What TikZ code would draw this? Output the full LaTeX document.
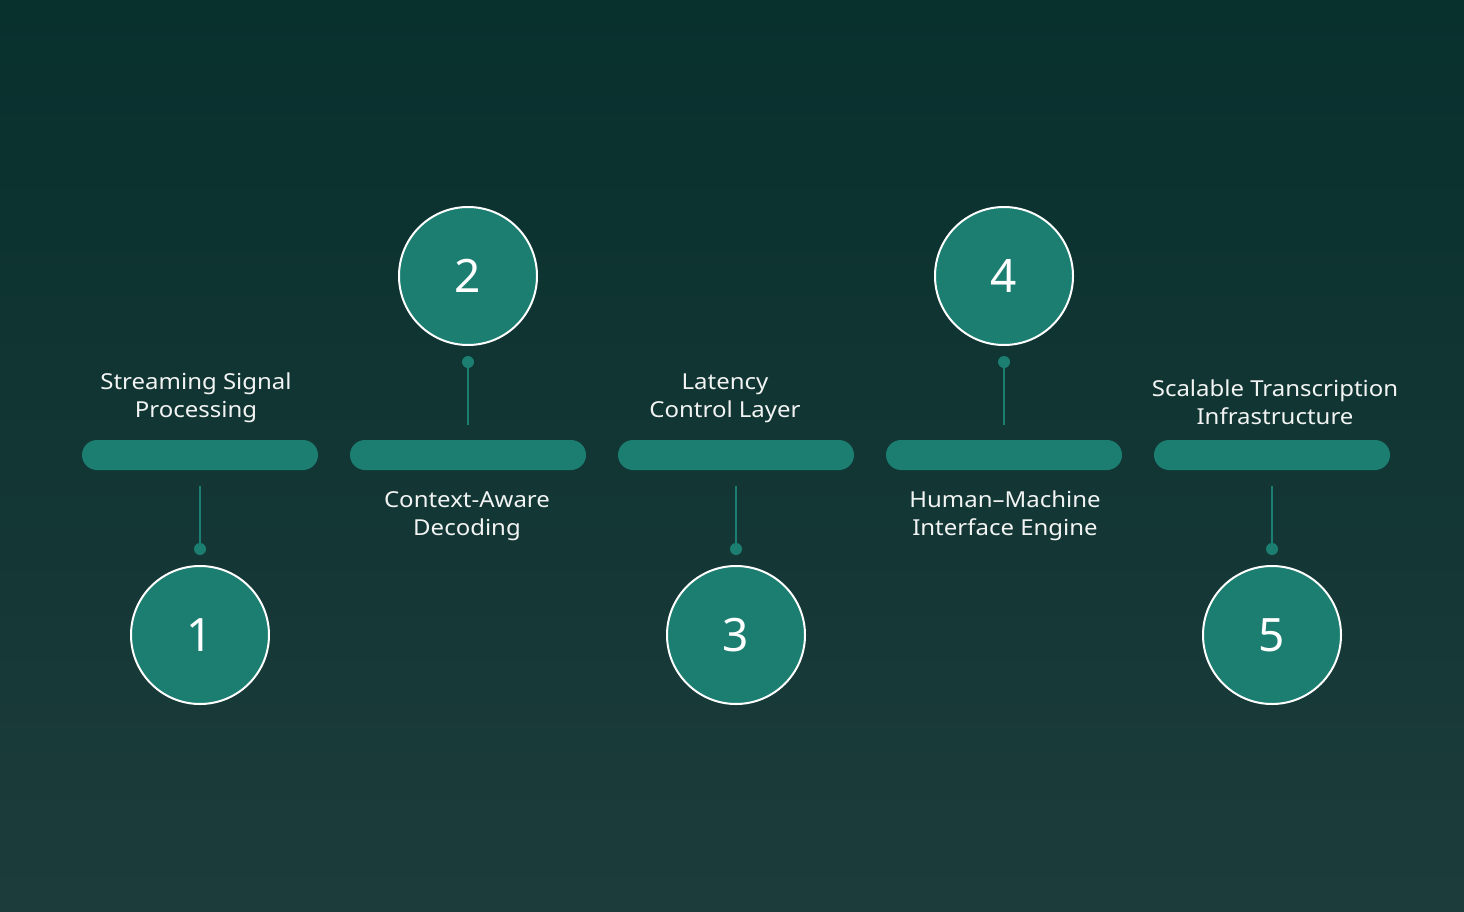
\documentclass[tikz,border=0pt]{standalone}
\usepackage{fontspec}
\setmainfont{Noto Sans}[FakeStretch=1.09]
\newfontfamily\numfont{Noto Sans}
\definecolor{bgtop}{HTML}{08302D}
\definecolor{bgbot}{HTML}{1C3C3B}
\definecolor{teal}{HTML}{1B7E71}
\definecolor{txt}{HTML}{F2F4F3}
\tikzset{
  bar/.style={fill=teal, rounded corners=15pt, draw=none},
  numcircle/.style={circle, fill=teal, draw=white, line width=2pt, minimum size=138pt, inner sep=0pt, text=white, font=\numfont\fontsize{46}{46}\selectfont},
  conn/.style={draw=teal, line width=2pt},
  dotc/.style={circle, fill=teal, minimum size=12pt, inner sep=0pt},
  lbl/.style={align=center, text=txt, font=\fontsize{22}{28}\selectfont, inner sep=0pt},
}
\begin{document}
\begin{tikzpicture}[x=1pt,y=-1pt]
\shade[top color=bgtop, bottom color=bgbot] (0,0) rectangle (1464,912);
\useasboundingbox (0,0) rectangle (1464,912);
% bars
\foreach \i/\cx in {1/200,2/468,3/736,4/1004,5/1272}{
  \path[bar] (\cx-118,440) rectangle (\cx+118,470);
  \coordinate (bt\i) at (\cx,425);
  \coordinate (bb\i) at (\cx,486);
}
% circles
\node[numcircle] (c1) at (200,635) {1};
\node[numcircle] (c3) at (736,635) {3};
\node[numcircle] (c5) at (1272,635) {5};
\node[numcircle] (c2) at (468,276) {2};
\node[numcircle] (c4) at (1004,276) {4};
% dots
\node[dotc] (d1) at (200,549) {};
\node[dotc] (d3) at (736,549) {};
\node[dotc] (d5) at (1272,549) {};
\node[dotc] (d2) at (468,362) {};
\node[dotc] (d4) at (1004,362) {};
\draw[conn] (bb1) -- (d1.center);
\draw[conn] (bb3) -- (d3.center);
\draw[conn] (bb5) -- (d5.center);
\draw[conn] (bt2) -- (d2.center);
\draw[conn] (bt4) -- (d4.center);
% labels
\node[lbl] (l1) at (196,398) {Streaming Signal\\Processing};
\node[lbl] (l2) at (467,516) {Context-Aware\\Decoding};
\node[lbl] (l3) at (725,398) {Latency\\Control Layer};
\node[lbl] (l4) at (1005,516) {Human–Machine\\Interface Engine};
\node[lbl] (l5) at (1275,402) {Scalable Transcription\\Infrastructure};
\end{tikzpicture}
\end{document}
